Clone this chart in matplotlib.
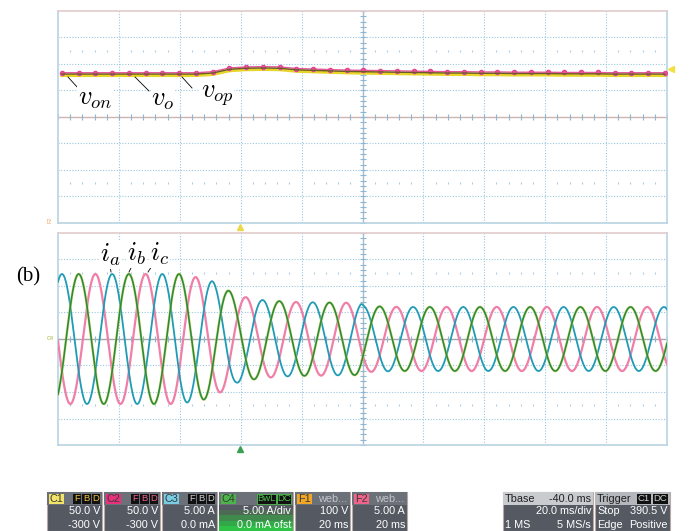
import numpy as np
import matplotlib.pyplot as plt
from matplotlib.patches import Rectangle

plt.rcParams['mathtext.fontset'] = 'cm'
plt.rcParams['font.family'] = ['Liberation Sans', 'DejaVu Sans']

# scope settings
V_DIV, V_CENTER = 50.0, 300.0     # 50 V/div, -300 V offset
A_DIV = 5.0                        # 5 A/div
T_SPAN = 200.0                     # 20 ms/div, 10 div

# dc-link voltages (ms, V) sampled at the ripple marks
t_v = np.arange(1.3, 200, 5.5)
v_o = [381, 381, 381, 381, 381, 381, 381, 381, 381, 383, 390, 392, 392.5,
       392, 389, 388, 387, 386, 385.5, 385, 384.5, 384, 383.5, 383, 383,
       382.5, 382.5, 382, 382, 382, 381.5, 381.5, 381.5, 381, 381, 381, 381]
v_split = 2.5   # v_op above, v_on below v_o

# phase current envelope (ms, A peak)
env_t = [0, 40, 44.9, 47.5, 50.5, 53, 55.7, 58.5, 61.3, 66.9, 72, 77.7, 99.5, 100.5, 112, 200]
env_a = [12.26, 12.26, 11.7, 11.5, 10.94, 10.19, 9.25, 8.30, 7.92, 7.36, 7.17, 6.98, 6.79, 6.23, 6.04, 6.04]
f_line = 60.7      # Hz
t_peak_a = 1.3     # ms, first peak of i_a

W, H = 697, 531
fig = plt.figure(figsize=(W / 100, H / 100), dpi=100)


def px_axes(x0, y0, x1, y1):
    return fig.add_axes([x0 / W, 1 - y1 / H, (x1 - x0) / W, (y1 - y0) / H])


def scope_grid(ax, center, per_div, center_col):
    ax.set_xlim(0, T_SPAN)
    ax.set_ylim(center - 4 * per_div, center + 4 * per_div)
    ax.set_xticks([])
    ax.set_yticks([])
    for s in ax.spines.values():
        s.set_color('#b9d3e3')
        s.set_linewidth(1.2)
    ax.spines['top'].set_color('#e2cccc')
    for k in range(1, 10):
        if k != 5:
            ax.axvline(20 * k, color='#9cc6de', lw=0.8, ls=(0, (1, 1.5)))
    for k in (-3, -2, -1, 1, 2, 3):
        ax.axhline(center + k * per_div, color='#9cc6de', lw=0.8, ls=(0, (1, 1.5)))
    ax.axhline(center, color=center_col, lw=1.0)
    ax.axvline(100, color='#a9bccb', lw=1.0)
    xs = np.arange(0, 200.1, 4)
    ax.plot(xs, np.full(len(xs), center), ls='none', marker='|', ms=4, mew=0.8, color='#8ab8d4')
    xd = np.array([x for x in xs if x % 20])
    for k in (-2.5, 2.5):
        ax.plot(xd, np.full(len(xd), center + k * per_div), ls='none', marker='|',
                ms=2.0, mew=0.8, color='#a8cce2')
    ys = center + per_div * np.arange(-4, 4.01, 0.2)
    ax.plot(np.full(len(ys), 100), ys, ls='none', marker='_', ms=4, mew=0.8, color='#8ab8d4')


# ---- top: voltages
ax_v = px_axes(58, 11, 667, 223)
scope_grid(ax_v, V_CENTER, V_DIV, '#cfb3b0')
v_o_arr = np.array(v_o)
ax_v.plot(t_v, v_o_arr - v_split, color='#e8d52a', lw=2.4, zorder=3)
ax_v.plot(t_v, v_o_arr + v_split, color='#e9569a', lw=1.0, marker='o', ms=3.0,
          mec='#e04890', zorder=4)
ax_v.plot(t_v, v_o_arr, color='#6b5a2a', lw=1.0, zorder=5)

# ---- bottom: phase currents
ax_i = px_axes(58, 233, 667, 445)
scope_grid(ax_i, 0.0, A_DIV, '#a4a6ab')
t = np.linspace(0, T_SPAN, 4000)
env = np.interp(t, env_t, env_a)
wt = 2 * np.pi * f_line * (t - t_peak_a) / 1000.0
i_a = env * np.cos(wt)
i_b = env * np.cos(wt - 2 * np.pi / 3)
i_c = env * np.cos(wt - 4 * np.pi / 3)
ax_i.plot(t, i_c, color='#f07fa8', lw=1.6, zorder=3)
ax_i.plot(t, i_a, color='#1f9bb6', lw=1.3, zorder=4)
ax_i.plot(t, i_b, color='#d9d24a', lw=2.0, alpha=0.6, zorder=5)
ax_i.plot(t, i_b, color='#2a8c3c', lw=1.2, zorder=6)

# ---- overlay in pixel coordinates
ov = fig.add_axes([0, 0, 1, 1], zorder=10)
ov.set_xlim(0, W)
ov.set_ylim(H, 0)
ov.axis('off')

lab = dict(fontsize=19, ha='center', va='center',
           bbox=dict(fc='white', ec='none', pad=0.3))
ov.text(95, 99, r'$v_{on}$', **lab)
ov.text(163, 100, r'$v_o$', **lab)
ov.text(217, 96, r'$v_{op}$', **lab)
ov.plot([68, 78], [77, 88], color='k', lw=0.6)
ov.plot([135, 149], [77, 91], color='k', lw=0.6)
ov.plot([182, 192], [77, 88], color='k', lw=0.6)

ov.text(110, 255, r'$i_a$', **lab)
ov.text(136, 254, r'$i_b$', **lab)
ov.text(160, 254, r'$i_c$', **lab)
ov.plot([110, 111], [266, 272], color='k', lw=0.6)
ov.plot([132, 129], [266, 272], color='k', lw=0.6)
ov.plot([152, 148], [266, 272], color='k', lw=0.6)

ov.text(28, 277, '(b)', fontsize=15, family='Liberation Serif', ha='center', va='center')

ov.plot(240, 227, marker='^', color='#ecd84a', ms=5)
ov.plot(240, 449, marker='^', color='#3aa050', ms=5)
ov.plot(671, 69, marker='<', color='#f0e040', ms=5)
ov.text(50, 339, 'C4', fontsize=4, color='#a8b830', ha='center', va='center')
ov.text(50, 220, 'F2', fontsize=4, color='#f0a060', ha='center', va='center', rotation=90)

# ---- status bar
Y0, HH, RH = 492, 13, 13
fs = 7.8


def status_box(x0, x1, badge, bcol, tags, r1, r2, tagcol, hdr='#6c7079', body='#545962',
               green=False, web=False):
    ov.add_patch(Rectangle((x0, Y0), x1 - x0, HH + 2 * RH, fc=body, ec='#b9a9a4', lw=0.8))
    if green:
        cols = ['#545962', '#4d6a55', '#3f8a4c', '#33a848', '#2ec246']
        for j, c in enumerate(cols):
            ov.add_patch(Rectangle((x0, Y0 + HH + j * 2 * RH / 5), x1 - x0, 2 * RH / 5,
                                   fc=c, ec='none'))
    ov.add_patch(Rectangle((x0, Y0), x1 - x0, HH, fc=hdr, ec='none'))
    ov.add_patch(Rectangle((x0 + 2, Y0 + 1.5), 15, 10, fc=bcol, ec='none'))
    ov.text(x0 + 9.5, Y0 + 6.8, badge, fontsize=fs, color='#3a3a3a', ha='center', va='center')
    xr = x1 - 2
    for tg in reversed(tags):
        w = 5.5 * len(tg) + 3
        ov.add_patch(Rectangle((xr - w, Y0 + 1.5), w, 10, fc='#111111',
                               ec=tagcol if green else 'none', lw=0.6))
        ov.text(xr - w / 2, Y0 + 6.8, tg, fontsize=fs - 1, color=tagcol, ha='center', va='center')
        xr -= w + 1
    if web:
        ov.text(x1 - 3, Y0 + 6.8, 'web...', fontsize=fs, color='#c4c6ca', ha='right', va='center')
    ov.text(x1 - 2, Y0 + HH + RH / 2, r1, fontsize=fs, color='white', ha='right', va='center')
    ov.text(x1 - 2, Y0 + HH + 1.5 * RH, r2, fontsize=fs, color='white', ha='right', va='center')


status_box(47, 102, 'C1', '#f2e46a', ['F', 'B', 'D'], '50.0 V', '-300 V', '#f0c040')
status_box(104, 160, 'C2', '#e8307c', ['F', 'B', 'D'], '50.0 V', '-300 V', '#f06090')
status_box(162, 217, 'C3', '#78cce4', ['F', 'B', 'D'], '5.00 A', '0.0 mA', '#d0d0d0')
status_box(219, 293, 'C4', '#4cb448', ['BwL', 'DC'], '5.00 A/div', '0.0 mA ofst', '#50c050',
           green=True)
status_box(295, 350, 'F1', '#f2a626', [], '100 V', '20 ms', '#ffffff', web=True)
status_box(352, 407, 'F2', '#f0648c', [], '5.00 A', '20 ms', '#ffffff', web=True)

# timebase box
ov.add_patch(Rectangle((503, Y0), 90, HH + 2 * RH, fc='#545962', ec='#b9a9a4', lw=0.8))
ov.add_patch(Rectangle((503, Y0), 90, HH, fc='#c9cbcf', ec='none'))
ov.text(505, Y0 + 6.8, 'Tbase', fontsize=fs, color='#202020', va='center')
ov.text(591, Y0 + 6.8, '-40.0 ms', fontsize=fs, color='#202020', ha='right', va='center')
ov.text(591, Y0 + HH + RH / 2, '20.0 ms/div', fontsize=fs, color='white', ha='right', va='center')
ov.text(505, Y0 + HH + 1.5 * RH, '1 MS', fontsize=fs, color='white', va='center')
ov.text(591, Y0 + HH + 1.5 * RH, '5 MS/s', fontsize=fs, color='white', ha='right', va='center')

# trigger box
ov.add_patch(Rectangle((595, Y0), 75, HH + 2 * RH, fc='#545962', ec='#b9a9a4', lw=0.8))
ov.add_patch(Rectangle((595, Y0), 75, HH, fc='#b4b7bc', ec='none'))
ov.text(597, Y0 + 6.8, 'Trigger', fontsize=fs, color='#202020', va='center')
ov.add_patch(Rectangle((637, Y0 + 1.5), 14, 10, fc='#111111', ec='none'))
ov.text(644, Y0 + 6.8, 'C1', fontsize=fs - 1, color='#d0d0d0', ha='center', va='center')
ov.add_patch(Rectangle((653, Y0 + 1.5), 15, 10, fc='#111111', ec='none'))
ov.text(660.5, Y0 + 6.8, 'DC', fontsize=fs - 1, color='#d0d0d0', ha='center', va='center')
ov.text(597, Y0 + HH + RH / 2, 'Stop', fontsize=fs, color='white', va='center')
ov.text(668, Y0 + HH + RH / 2, '390.5 V', fontsize=fs, color='white', ha='right', va='center')
ov.text(597, Y0 + HH + 1.5 * RH, 'Edge', fontsize=fs, color='white', va='center')
ov.text(668, Y0 + HH + 1.5 * RH, 'Positive', fontsize=fs, color='white', ha='right', va='center')

fig.savefig('out.png', dpi=100)
